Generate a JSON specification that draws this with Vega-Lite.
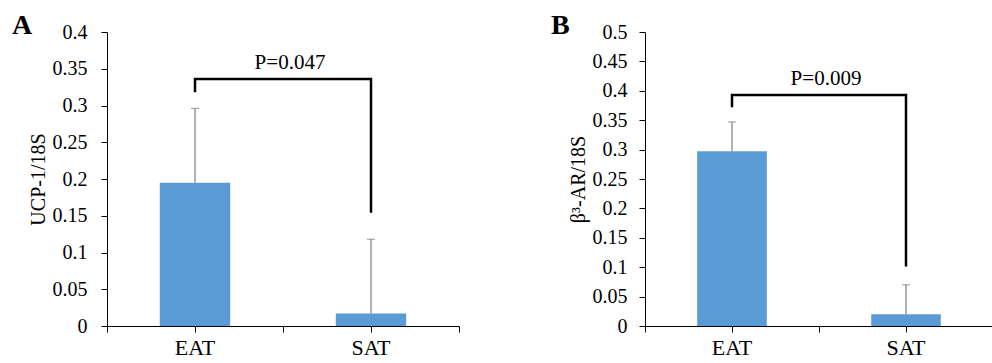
{
  "$schema": "https://vega.github.io/schema/vega-lite/v6.json",
  "background": "white",
  "padding": {"left": 12, "top": 12, "right": 0, "bottom": 0},
  "spacing": 91,
  "config": {
    "view": {"stroke": null},
    "font": "Liberation Serif",
    "axis": {
      "labelFont": "Liberation Serif",
      "titleFont": "Liberation Serif",
      "labelColor": "#000",
      "titleColor": "#000",
      "domainColor": "#000",
      "tickColor": "#000",
      "grid": false,
      "titleFontWeight": "normal"
    },
    "title": {
      "font": "Liberation Serif",
      "fontWeight": "bold",
      "fontSize": 28,
      "anchor": "start",
      "frame": "group",
      "color": "#000",
      "offset": 0
    }
  },
  "datasets": {
    "panelA": [
      {"kind": "bar", "cat": "EAT", "y": 0.195},
      {"kind": "bar", "cat": "SAT", "y": 0.017},
      {"kind": "err", "cat": "EAT", "y": 0.195, "y2": 0.296},
      {"kind": "err", "cat": "SAT", "y": 0.017, "y2": 0.118},
      {"kind": "cap", "cat": "EAT", "y": 0.296},
      {"kind": "cap", "cat": "SAT", "y": 0.118},
      {"kind": "br", "cat": "EAT", "y": 0.318, "o": 1},
      {"kind": "br", "cat": "EAT", "y": 0.336, "o": 2},
      {"kind": "br", "cat": "SAT", "y": 0.336, "o": 3},
      {"kind": "br", "cat": "SAT", "y": 0.154, "o": 4},
      {"kind": "p", "cat": "EAT", "y": 0.358, "label": "P=0.047"}
    ],
    "panelB": [
      {"kind": "bar", "cat": "EAT", "y": 0.297},
      {"kind": "bar", "cat": "SAT", "y": 0.020},
      {"kind": "err", "cat": "EAT", "y": 0.297, "y2": 0.347},
      {"kind": "err", "cat": "SAT", "y": 0.020, "y2": 0.070},
      {"kind": "cap", "cat": "EAT", "y": 0.347},
      {"kind": "cap", "cat": "SAT", "y": 0.070},
      {"kind": "br", "cat": "EAT", "y": 0.372, "o": 1},
      {"kind": "br", "cat": "EAT", "y": 0.393, "o": 2},
      {"kind": "br", "cat": "SAT", "y": 0.393, "o": 3},
      {"kind": "br", "cat": "SAT", "y": 0.101, "o": 4},
      {"kind": "p", "cat": "EAT", "y": 0.42, "label": "P=0.009"}
    ]
  },
  "hconcat": [
    {
      "title": {"text": "A", "dx": -95, "dy": 22},
      "width": 352,
      "height": 294,
      "data": {"name": "panelA"},
      "resolve": {"axis": {"x": "independent"}},
      "encoding": {
        "x": {
          "field": "cat", "type": "nominal", "sort": ["EAT", "SAT"],
          "scale": {"paddingInner": 0, "paddingOuter": 0},
          "axis": null
        },
        "y": {
          "field": "y", "type": "quantitative",
          "scale": {"domain": [0, 0.4], "nice": false},
          "axis": {"title": "UCP-1/18S", "values": [0, 0.05, 0.1, 0.15, 0.2, 0.25, 0.3, 0.35, 0.4], "format": "~g", "labelFontSize": 20, "titleFontSize": 20, "tickSize": 6, "labelPadding": 14, "titlePadding": 4, "labelOverlap": false}
        }
      },
      "layer": [
        {
          "transform": [{"filter": "datum.kind === 'bar'"}],
          "mark": {"type": "bar", "color": "#5B9BD5", "width": {"band": 0.4}},
          "encoding": {
            "x": {
              "field": "cat", "type": "nominal", "sort": ["EAT", "SAT"],
              "axis": {"orient": "bottom", "title": null, "tickBand": "center", "labelAngle": 0, "labelFontSize": 22, "tickSize": 6, "labelPadding": 5}
            }
          }
        },
        {
          "transform": [{"filter": "datum.kind === 'err'"}],
          "mark": {"type": "rule", "color": "#7f7f7f", "strokeWidth": 1.2},
          "encoding": {"y2": {"field": "y2"}}
        },
        {
          "transform": [{"filter": "datum.kind === 'cap'"}],
          "mark": {"type": "tick", "color": "#7f7f7f", "thickness": 1.2, "size": 8}
        },
        {
          "transform": [{"filter": "datum.kind === 'br'"}],
          "mark": {"type": "line", "color": "#000", "strokeWidth": 2.5, "strokeJoin": "miter", "strokeCap": "butt"},
          "encoding": {
            "x": {
              "field": "cat", "type": "nominal", "sort": ["EAT", "SAT"],
              "axis": {"orient": "bottom", "title": null, "labels": false, "domain": false, "tickSize": 6, "tickBand": "extent"}
            },
            "order": {"field": "o", "type": "quantitative"}
          }
        },
        {
          "transform": [{"filter": "datum.kind === 'p'"}],
          "mark": {"type": "text", "fontSize": 21, "color": "#000", "baseline": "middle", "align": "center", "dx": 7},
          "encoding": {
            "x": {"field": "cat", "type": "nominal", "sort": ["EAT", "SAT"], "bandPosition": 1, "axis": null},
            "text": {"field": "label"}
          }
        }
      ]
    },
    {
      "title": {"text": "B", "dx": -94, "dy": 22},
      "width": 348,
      "height": 294,
      "data": {"name": "panelB"},
      "resolve": {"axis": {"x": "independent"}},
      "encoding": {
        "x": {
          "field": "cat", "type": "nominal", "sort": ["EAT", "SAT"],
          "scale": {"paddingInner": 0, "paddingOuter": 0},
          "axis": null
        },
        "y": {
          "field": "y", "type": "quantitative",
          "scale": {"domain": [0, 0.5], "nice": false},
          "axis": {"title": "β³-AR/18S", "values": [0, 0.05, 0.1, 0.15, 0.2, 0.25, 0.3, 0.35, 0.4, 0.45, 0.5], "format": "~g", "labelFontSize": 20, "titleFontSize": 20, "tickSize": 6, "labelPadding": 12, "titlePadding": 4, "labelOverlap": false}
        }
      },
      "layer": [
        {
          "transform": [{"filter": "datum.kind === 'bar'"}],
          "mark": {"type": "bar", "color": "#5B9BD5", "width": {"band": 0.4}},
          "encoding": {
            "x": {
              "field": "cat", "type": "nominal", "sort": ["EAT", "SAT"],
              "axis": {"orient": "bottom", "title": null, "tickBand": "center", "labelAngle": 0, "labelFontSize": 22, "tickSize": 6, "labelPadding": 5}
            }
          }
        },
        {
          "transform": [{"filter": "datum.kind === 'err'"}],
          "mark": {"type": "rule", "color": "#7f7f7f", "strokeWidth": 1.2},
          "encoding": {"y2": {"field": "y2"}}
        },
        {
          "transform": [{"filter": "datum.kind === 'cap'"}],
          "mark": {"type": "tick", "color": "#7f7f7f", "thickness": 1.2, "size": 8}
        },
        {
          "transform": [{"filter": "datum.kind === 'br'"}],
          "mark": {"type": "line", "color": "#000", "strokeWidth": 2.5, "strokeJoin": "miter", "strokeCap": "butt"},
          "encoding": {
            "x": {
              "field": "cat", "type": "nominal", "sort": ["EAT", "SAT"],
              "axis": {"orient": "bottom", "title": null, "labels": false, "domain": false, "tickSize": 6, "tickBand": "extent"}
            },
            "order": {"field": "o", "type": "quantitative"}
          }
        },
        {
          "transform": [{"filter": "datum.kind === 'p'"}],
          "mark": {"type": "text", "fontSize": 21, "color": "#000", "baseline": "middle", "align": "center", "dx": 7},
          "encoding": {
            "x": {"field": "cat", "type": "nominal", "sort": ["EAT", "SAT"], "bandPosition": 1, "axis": null},
            "text": {"field": "label"}
          }
        }
      ]
    }
  ]
}
